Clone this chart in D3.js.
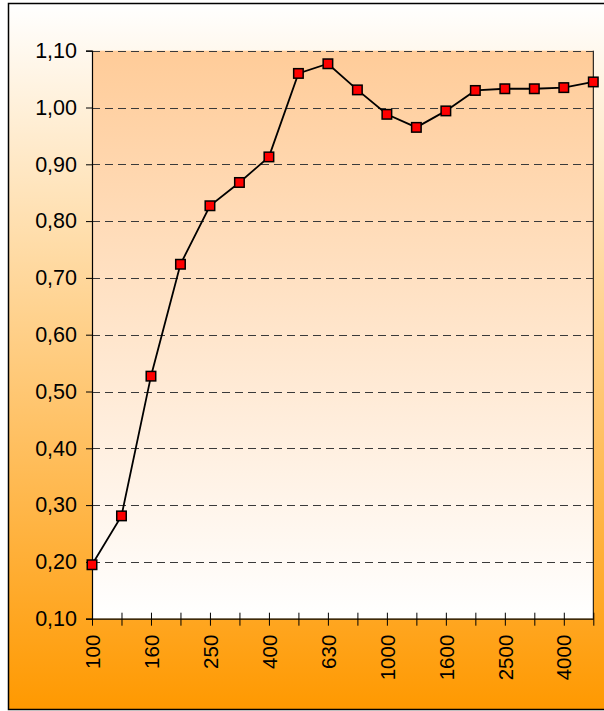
<!DOCTYPE html>
<html>
<head>
<meta charset="utf-8">
<script src="https://cdn.jsdelivr.net/npm/d3@7"></script>
<style>
  body { margin: 0; background: #fff; }
  text { font-family: "Liberation Sans", Arial, sans-serif; }
</style>
</head>
<body>
<svg id="chart" width="604" height="711"></svg>
<script>
// frequency bands (Hz)
var categories = ["100", "125", "160", "200", "250", "315", "400", "500", "630", "800",
    "1000", "1250", "1600", "2000", "2500", "3150", "4000", "5000"];
// measured values
var values = [0.195, 0.281, 0.527, 0.724, 0.827, 0.868, 0.913, 1.060, 1.077, 1.031,
    0.988, 0.965, 0.994, 1.030, 1.033, 1.033, 1.035, 1.045];
var yTicks = [0.10, 0.20, 0.30, 0.40, 0.50, 0.60, 0.70, 0.80, 0.90, 1.00, 1.10];

var plotLeft = 92, plotRight = 593.3, plotTop = 50.7, plotBottom = 618.7;

var svg = d3.select("#chart");
var defs = svg.append("defs");

var outerGrad = defs.append("linearGradient")
    .attr("id", "outerGrad").attr("x1", 0).attr("y1", 0).attr("x2", 0).attr("y2", 1);
outerGrad.append("stop").attr("offset", "0%").attr("stop-color", "#ffffff");
outerGrad.append("stop").attr("offset", "100%").attr("stop-color", "#ff9900");

var plotGrad = defs.append("linearGradient")
    .attr("id", "plotGrad").attr("x1", 0).attr("y1", 0).attr("x2", 0).attr("y2", 1);
plotGrad.append("stop").attr("offset", "0%").attr("stop-color", "#ffcc99");
plotGrad.append("stop").attr("offset", "100%").attr("stop-color", "#ffffff");

// chart background + border
svg.append("rect")
    .attr("x", 8.5).attr("y", 3.5)
    .attr("width", 620).attr("height", 706)
    .style("fill", "url(#outerGrad)")
    .style("stroke", "#000")
    .style("stroke-width", 1.5);

var x = d3.scalePoint()
    .domain(categories)
    .range([plotLeft, plotRight])
    .padding(0);

var y = d3.scaleLinear()
    .domain([0.1, 1.1])
    .range([plotBottom, plotTop]);

// plot area
svg.append("rect")
    .attr("x", plotLeft).attr("y", plotTop)
    .attr("width", plotRight - plotLeft).attr("height", plotBottom - plotTop)
    .style("fill", "url(#plotGrad)");

// right border of plot
svg.append("line")
    .attr("x1", plotRight).attr("x2", plotRight)
    .attr("y1", plotTop).attr("y2", plotBottom)
    .style("stroke", "#000").style("stroke-width", 1);

// dashed gridlines
svg.append("g")
    .selectAll("line")
    .data(yTicks.slice(1))
    .enter().append("line")
    .attr("x1", plotLeft).attr("x2", plotRight)
    .attr("y1", function(d) { return Math.round(y(d)) + 0.5; })
    .attr("y2", function(d) { return Math.round(y(d)) + 0.5; })
    .style("stroke", "#3a3a3a")
    .style("stroke-width", 1.2)
    .style("stroke-dasharray", "8,5");

var fmt = function(d) { return d3.format(".2f")(d).replace(".", ","); };

// y axis
var yAxis = svg.append("g")
    .attr("transform", "translate(" + plotLeft + ",0)")
    .call(d3.axisLeft(y).tickValues(yTicks).tickSize(6).tickPadding(9).tickFormat(fmt));
yAxis.select(".domain").style("stroke", "#000").style("stroke-width", 1.2);
yAxis.selectAll(".tick line").style("stroke", "#000");
yAxis.selectAll("text")
    .style("font-size", "21.5px")
    .style("fill", "#000");

// x axis
var xAxis = svg.append("g")
    .attr("transform", "translate(0," + plotBottom + ")")
    .call(d3.axisBottom(x).tickSizeOuter(0).tickFormat(function(d, i) {
        return i % 2 == 0 ? d : "";
    }));
xAxis.select(".domain").style("stroke", "#000").style("stroke-width", 1.2);
xAxis.selectAll(".tick line")
    .attr("y1", function(d, i) { return i == 0 ? 0 : -6; })
    .attr("y2", 7)
    .style("stroke", "#000");
xAxis.selectAll(".tick text")
    .attr("transform", "rotate(-90)")
    .attr("x", -16)
    .attr("y", 0)
    .attr("dy", "0.35em")
    .style("text-anchor", "end")
    .style("font-size", "20.5px")
    .style("fill", "#000");

// data line
var line = d3.line()
    .x(function(d, i) { return x(categories[i]); })
    .y(function(d) { return y(d); });

svg.append("path")
    .datum(values)
    .attr("d", line)
    .style("fill", "none")
    .style("stroke", "#000")
    .style("stroke-width", 1.8);

// markers
var markerSize = 9.5;
svg.append("g")
    .selectAll("rect")
    .data(values)
    .enter().append("rect")
    .attr("x", function(d, i) { return x(categories[i]) - markerSize / 2; })
    .attr("y", function(d) { return y(d) - markerSize / 2; })
    .attr("width", markerSize).attr("height", markerSize)
    .style("fill", "#ff0000")
    .style("stroke", "#000")
    .style("stroke-width", 1.5);
</script>
</body>
</html>
